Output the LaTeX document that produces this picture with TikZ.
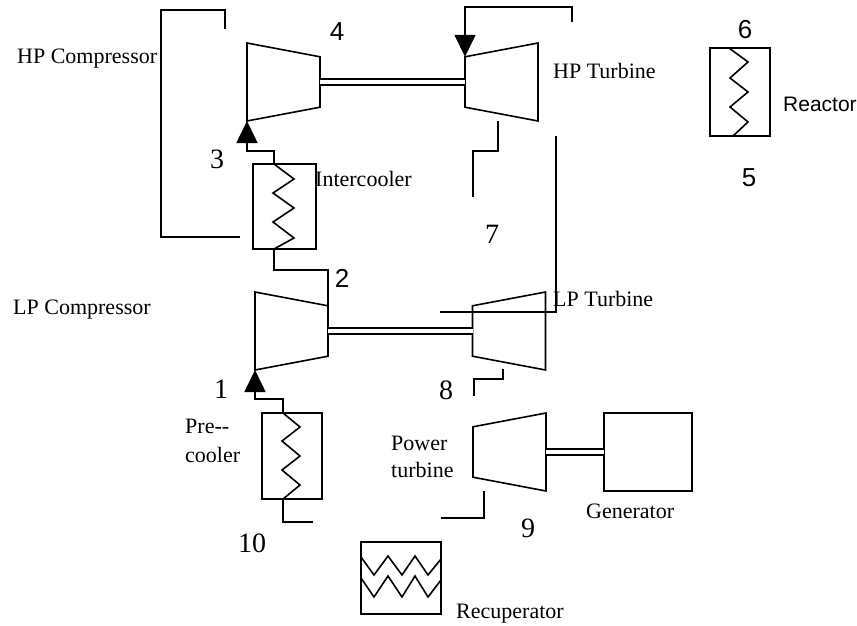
\documentclass[tikz,border=0pt]{standalone}
\usepackage{fontspec}
\setmainfont{Liberation Serif}
\newfontfamily\numsans{Liberation Sans}
\usetikzlibrary{shapes.geometric,arrows.meta}
\tikzset{
  ln/.style    = {draw=black, line width=1.6pt, line join=miter},
  fl/.style    = {ln, -{Triangle[length=22pt,width=21pt]}},
  shaft/.style = {draw=black, double=white, double distance=4.2pt, line width=1.6pt},
  rot/.style   = {trapezium, trapezium stretches=true, trapezium angle=74.7, inner sep=1pt,
                  outer sep=0pt, minimum width=78pt, minimum height=73pt},
  cmp/.style   = {rot, rotate=-90},
  trb/.style   = {rot, rotate=90},
  hx/.style    = {rectangle, ln, inner sep=0pt, outer sep=0pt},
  lab/.style   = {anchor=base west, inner sep=0pt, font=\fontsize{22}{26}\selectfont},
  num/.style   = {anchor=base, inner sep=0pt, font=\fontsize{28}{30}\selectfont},
  nums/.style  = {anchor=base, inner sep=0pt, font=\numsans\fontsize{26}{30}\selectfont},
}
\newcommand{\rotor}[1]{\draw[ln] (#1.top left corner) -- (#1.top right corner)
  -- (#1.bottom right corner) -- (#1.bottom left corner) -- cycle;}
\begin{document}
\begin{tikzpicture}[x=1pt,y=-1pt]
  \useasboundingbox (0,0) rectangle (857,625);
  \node[cmp] (hpc) at (283.5,82) {};
  \node[trb] (hpt) at (501.5,82) {};
  \node[cmp] (lpc) at (291.5,331) {};
  \node[trb] (lpt) at (509,331) {};
  \node[trb] (pwt) at (509.5,452) {};
  \node[hx, minimum width=63pt, minimum height=85pt] (ic) at (284.5,206.5) {};
  \node[hx, minimum width=60pt, minimum height=86pt] (pc) at (292,456) {};
  \node[hx, minimum width=60pt, minimum height=88pt] (rct) at (740,92) {};
  \node[hx, minimum width=88pt, minimum height=78pt] (gen) at (648,452) {};
  \node[hx, minimum width=80pt, minimum height=72pt] (rec) at (401,578) {};
  \rotor{hpc} \rotor{hpt} \rotor{lpc} \rotor{lpt} \rotor{pwt}

  \coordinate (icT) at (274,164);
  \coordinate (icB) at (274,249);
  \coordinate (pcT) at (283,413);
  \coordinate (pcB) at (283,499);
  \coordinate (rctT) at (729,48);
  \coordinate (rctB) at (733,136);
  \coordinate (recA) at (361,557);
  \coordinate (recB) at (361,578);
  \coordinate (a) at (225,29);
  \coordinate (b) at (240,237);
  \coordinate (c) at (572,22);
  \coordinate (d) at (498,121);
  \coordinate (e) at (473,197);
  \coordinate (f) at (556,136);
  \coordinate (g) at (440,312);
  \coordinate (h) at (503,369);
  \coordinate (i) at (474,396);
  \coordinate (j) at (484,491);
  \coordinate (k) at (441,518);
  \coordinate (m) at (313,522);

  \draw[shaft] (hpc.top side) -- (hpt.top side);
  \draw[shaft] (lpc.top side) -- (lpt.top side);
  \draw[shaft] (pwt.bottom side) -- (gen.west);

  \draw[ln] (icT) -- ++(20,15) -- ++(-21,14) -- ++(21,15) -- ++(-21,14) -- ++(21,16) -- (icB);
  \draw[ln] (pcT) -- ++(17,14) -- ++(-18,14) -- ++(18,15) -- ++(-18,14) -- ++(18,15) -- (pcB);
  \draw[ln] (rctT) -- ++(19,14) -- ++(-18,16) -- ++(18,14) -- ++(-18,15) -- ++(18,15) -- (rctB);
  \draw[ln] (recA) -- ++(13,18) -- ++(14,-19) -- ++(14,19) -- ++(13,-19) -- ++(13,19) -- ++(13,-16);
  \draw[ln] (recB) -- ++(13,19) -- ++(14,-21) -- ++(14,21) -- ++(13,-21) -- ++(13,21) -- ++(13,-17);

  \draw[ln] (a) -- ++(0,-19) -- ++(-64,0) |- (b);
  \draw[fl] (icT) -- ++(0,-13) -| (hpc.bottom right corner);
  \draw[ln] (icB) -- ++(0,21) -| (lpc.top left corner);
  \draw[fl] (c) -- ++(0,-15) -| (hpt.top right corner);
  \draw[ln] (d) -- ++(0,30) -| (e);
  \draw[ln] (f) |- (g);
  \draw[ln] (h) -- ++(0,10) -| (i);
  \draw[ln] (j) |- (k);
  \draw[fl] (pcT) -- ++(0,-14) -| (lpc.bottom right corner);
  \draw[ln] (pcB) |- (m);

  \node[lab] (lhpc) at (17,63) {HP Compressor};
  \node[lab] (lic) at (315,186) {Intercooler};
  \node[lab] (llpc) at (13,314) {LP Compressor};
  \node[lab] (lhpt) at (553,78) {HP Turbine};
  \node[lab, font=\numsans\fontsize{21}{26}\selectfont] (lrct) at (783,111) {Reactor};
  \node[lab] (llpt) at (553,306) {LP Turbine};
  \node[lab] (lpre) at (185,433) {Pre-{}-};
  \node[lab] (lcool) at (185,462) {cooler};
  \node[lab] (lpow) at (391,450) {Power};
  \node[lab] (lturb) at (391,477) {turbine};
  \node[lab] (lgen) at (586,518) {Generator};
  \node[lab] (lrec) at (456,618) {Recuperator};

  \node[num] (n1) at (221,398) {1};
  \node[nums] (n2) at (342,287) {2};
  \node[num] (n3) at (217,168) {3};
  \node[nums] (n4) at (337,40) {4};
  \node[nums] (n5) at (749,186) {5};
  \node[nums] (n6) at (745,38) {6};
  \node[num] (n7) at (492,243) {7};
  \node[num] (n8) at (446,399) {8};
  \node[num] (n9) at (528,537) {9};
  \node[num] (n10) at (252,552) {10};
\end{tikzpicture}
\end{document}
